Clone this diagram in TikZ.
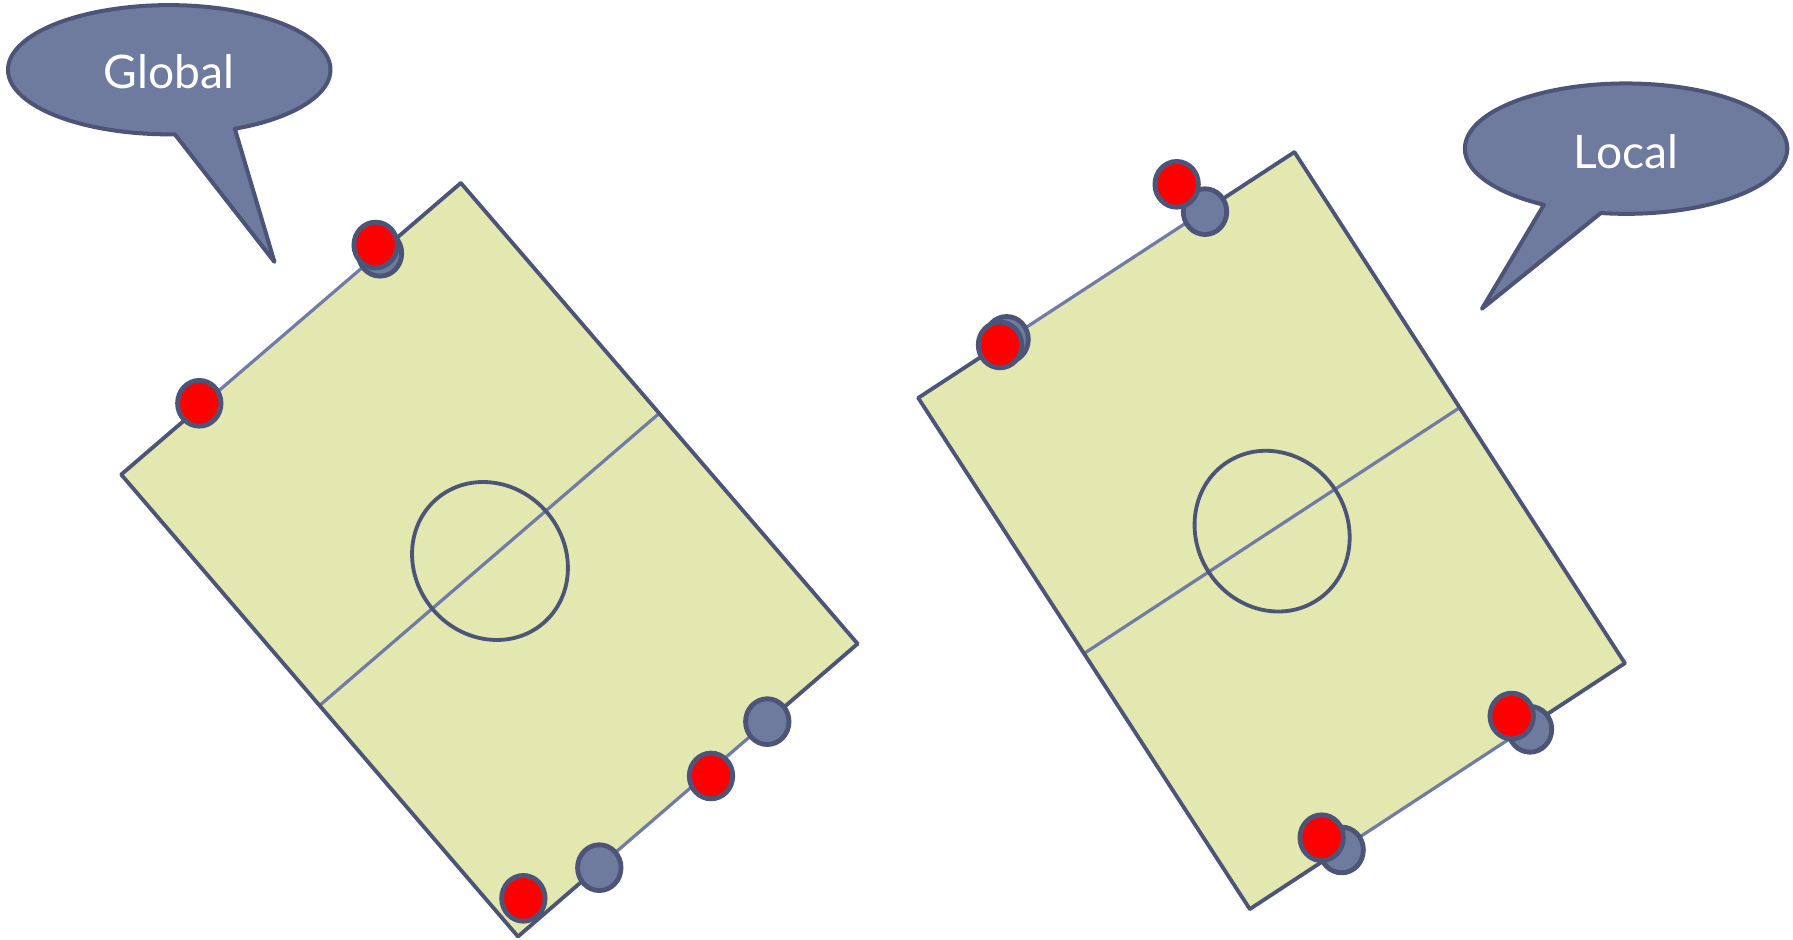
\documentclass[tikz,border=0pt]{standalone}
\usepackage{fontspec}
\newfontfamily\calloutfont{Lato}
\usetikzlibrary{calc}
\definecolor{darkline}{RGB}{76,85,119}
\definecolor{lightline}{RGB}{112,124,166}
\definecolor{bluefill}{RGB}{111,122,159}
\definecolor{fieldfill}{RGB}{226,232,176}
\definecolor{redfill}{RGB}{255,0,0}
\tikzset{
  callout/.style={draw=darkline, fill=bluefill, line width=1pt, line join=round},
  callouttext/.style={text=white, font=\calloutfont\fontsize{11.5}{14}\selectfont},
  field/.style={fill=fieldfill, draw=none},
  edge/.style={draw=darkline, line width=0.95pt, line cap=round},
  lightedge/.style={draw=lightline, line width=0.8pt},
  centrecircle/.style={draw=darkline, line width=0.95pt},
  bluedot/.style={draw=darkline, fill=bluefill, line width=1.2pt},
  reddot/.style={draw=darkline, fill=redfill, line width=1.2pt},
}
\begin{document}
\begin{tikzpicture}[x=0.01cm, y=0.01cm]
\useasboundingbox (0,0) rectangle (1568,-822);

% ---------- callouts ----------
\coordinate (gc) at (148,-61);
\draw[callout] (gc) ++(-66:141 and 56.5) arc[start angle=-66, end angle=272, x radius=141, y radius=56.5] -- (240,-229) -- cycle;
\node[callouttext] (global) at (148,-63) {Global};

\coordinate (lc) at (1422,-130);
\draw[callout] (lc) ++(-99:141 and 57) arc[start angle=-99, end angle=239.4, x radius=141, y radius=57] -- (1296,-270) -- cycle;
\node[callouttext] (local) at (1422,-133) {Local};

% ---------- left field ----------
\coordinate (LT) at (403,-160);
\coordinate (LR) at (750,-563);
\coordinate (LB) at (453,-819);
\coordinate (LL) at (106,-415);
\fill[field] (LT) -- (LR) -- (LB) -- (LL) -- cycle;
\draw[lightedge] ($(LL)!0.5!(LB)$) -- ($(LT)!0.5!(LR)$);
\draw[centrecircle, rotate around={-49.3:(428.5,-490.6)}] (428.5,-490.6) ellipse[x radius=71.6, y radius=65.5];

% dot positions (left)
\coordinate (g1) at (174.3,-352.7);
\coordinate (g2b) at (332.3,-221.5);
\coordinate (g2r) at (328.5,-214.3);
\coordinate (g3b) at (671,-631.1);
\coordinate (g4r) at (621.8,-678.6);
\coordinate (g5b) at (524.1,-758.8);
\coordinate (g6r) at (457.7,-785.6);

\draw[edge] (LT) -- (LR);
\draw[edge] (LB) -- (LL);
\draw[edge] (LL) -- ($(LL)!(g1)!(LT)$);
\draw[lightedge] ($(LL)!(g1)!(LT)$) -- ($(LL)!(g2b)!(LT)$);
\draw[edge] ($(LL)!(g2b)!(LT)$) -- (LT);
\draw[edge] (LR) -- ($(LB)!(g3b)!(LR)$);
\draw[lightedge] ($(LB)!(g3b)!(LR)$) -- ($(LB)!(g5b)!(LR)$);
\draw[edge] ($(LB)!(g5b)!(LR)$) -- (LB);

\draw[bluedot] (g2b) ellipse[x radius=19, y radius=20];
\draw[bluedot] (g3b) ellipse[x radius=19, y radius=20];
\draw[bluedot] (g5b) ellipse[x radius=19, y radius=20];
\draw[reddot] (g1) ellipse[x radius=19, y radius=20];
\draw[reddot] (g2r) ellipse[x radius=19, y radius=20];
\draw[reddot] (g4r) ellipse[x radius=19, y radius=20];
\draw[reddot] (g6r) ellipse[x radius=19, y radius=20];

% ---------- right field ----------
\coordinate (RT) at (1132,-133);
\coordinate (RR) at (1421,-580);
\coordinate (RB) at (1093,-795);
\coordinate (RL) at (803,-348);
\fill[field] (RT) -- (RR) -- (RB) -- (RL) -- cycle;
\draw[lightedge] ($(RL)!0.5!(RB)$) -- ($(RT)!0.5!(RR)$);
\draw[centrecircle, rotate around={-57.1:(1112.5,-464.5)}] (1112.5,-464.5) ellipse[x radius=72, y radius=66];

\coordinate (l1r) at (1029,-161.2);
\coordinate (l1b) at (1053.8,-185.1);
\coordinate (l2r) at (874.5,-301.7);
\coordinate (l2b) at (880.3,-296.8);
\coordinate (l3r) at (1322,-626.2);
\coordinate (l3b) at (1338,-637.8);
\coordinate (l4r) at (1155.8,-732.6);
\coordinate (l4b) at (1173.3,-743.3);

\draw[edge] (RT) -- (RR);
\draw[edge] (RB) -- (RL);
\draw[edge] (RL) -- ($(RL)!(l2b)!(RT)$);
\draw[lightedge] ($(RL)!(l2b)!(RT)$) -- ($(RL)!(l1b)!(RT)$);
\draw[edge] ($(RL)!(l1b)!(RT)$) -- (RT);
\draw[edge] (RR) -- ($(RB)!(l3b)!(RR)$);
\draw[lightedge] ($(RB)!(l3b)!(RR)$) -- ($(RB)!(l4b)!(RR)$);
\draw[edge] ($(RB)!(l4b)!(RR)$) -- (RB);

\draw[bluedot] (l1b) ellipse[x radius=19, y radius=20];
\draw[bluedot] (l2b) ellipse[x radius=19, y radius=20];
\draw[bluedot] (l3b) ellipse[x radius=19, y radius=20];
\draw[bluedot] (l4b) ellipse[x radius=19, y radius=20];
\draw[reddot] (l1r) ellipse[x radius=19, y radius=20];
\draw[reddot] (l2r) ellipse[x radius=19, y radius=20];
\draw[reddot] (l3r) ellipse[x radius=19, y radius=20];
\draw[reddot] (l4r) ellipse[x radius=19, y radius=20];
\end{tikzpicture}
\end{document}
